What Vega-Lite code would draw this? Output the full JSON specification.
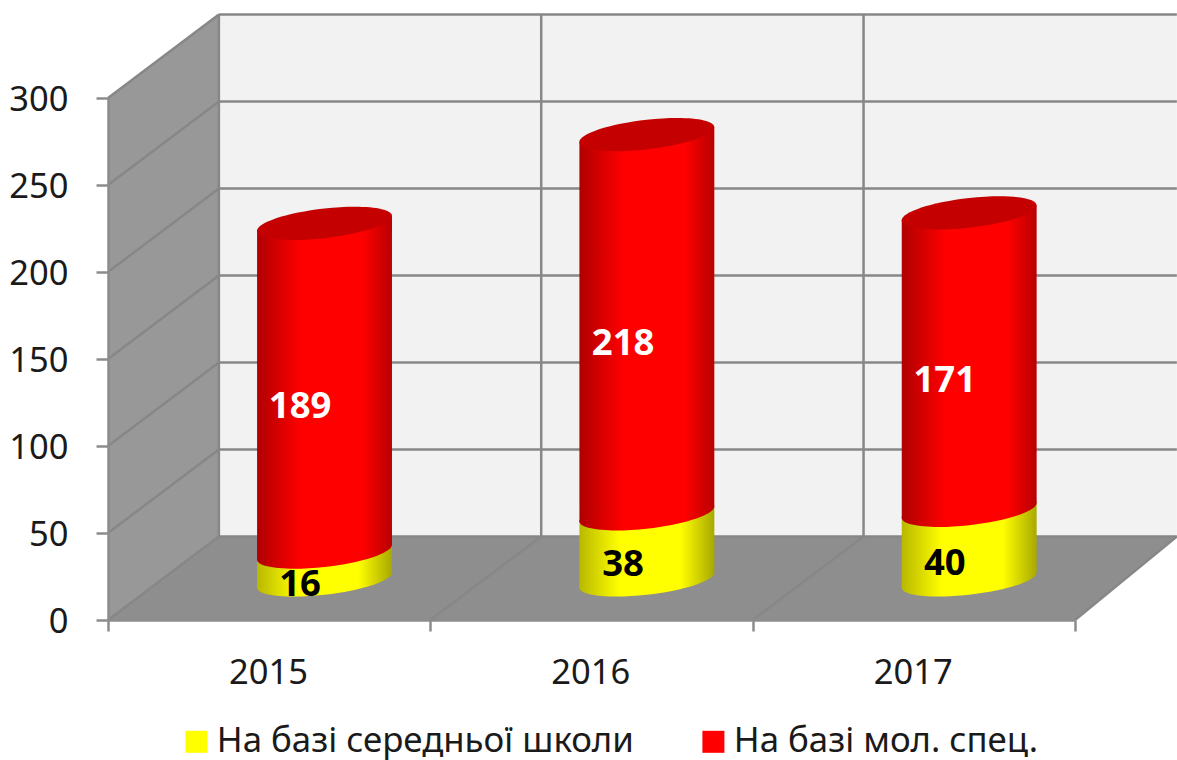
{"$schema":"https://vega.github.io/schema/vega-lite/v6.json","width":967,"height":522,"autosize":"none","padding":{"left":108,"top":98,"right":102,"bottom":140},"background":"white","config":{"view":{"stroke":null},"font":"Noto Sans"},"datasets":{"values":[{"year":2015,"series":"На базі середньої школи","value":16,"pos":0.596,"mid":20.2},{"year":2016,"series":"На базі середньої школи","value":38,"pos":1.598,"mid":31.7},{"year":2017,"series":"На базі середньої школи","value":40,"pos":2.596,"mid":32.2},{"year":2015,"series":"На базі мол. спец.","value":189,"pos":0.596,"mid":122.5},{"year":2016,"series":"На базі мол. спец.","value":218,"pos":1.598,"mid":158.7},{"year":2017,"series":"На базі мол. спец.","value":171,"pos":2.596,"mid":137.4}],"sideWall":[{"pos":0,"low":0,"high":300},{"pos":0.344,"low":48,"high":348}],"floor":[{"level":0,"from":0,"to":3},{"level":48,"from":0.344,"to":3.316}],"backWall":[{"from":0.344,"to":3.316,"low":48,"high":348}],"grid":[{"a":0,"b":0.344,"c":50,"d":98},{"a":0,"b":0.344,"c":100,"d":148},{"a":0,"b":0.344,"c":150,"d":198},{"a":0,"b":0.344,"c":200,"d":248},{"a":0,"b":0.344,"c":250,"d":298},{"a":0,"b":0.344,"c":300,"d":348},{"a":0.344,"b":3.316,"c":48,"d":48},{"a":0.344,"b":3.316,"c":98,"d":98},{"a":0.344,"b":3.316,"c":148,"d":148},{"a":0.344,"b":3.316,"c":198,"d":198},{"a":0.344,"b":3.316,"c":248,"d":248},{"a":0.344,"b":3.316,"c":298,"d":298},{"a":0.344,"b":3.316,"c":348,"d":348},{"a":0.344,"b":0.344,"c":48,"d":348},{"a":1.344,"b":1.344,"c":48,"d":348},{"a":2.344,"b":2.344,"c":48,"d":348},{"a":0,"b":0.344,"c":0,"d":48},{"a":1,"b":1.344,"c":0,"d":48},{"a":2,"b":2.344,"c":0,"d":48},{"a":3,"b":3.316,"c":0,"d":48}],"yellowBody":[{"year":2015,"pos":0.4625,"low":18.75,"high":34.75},{"year":2015,"pos":0.881,"low":27.25,"high":43.25},{"year":2016,"pos":1.4625,"low":18.75,"high":56.75},{"year":2016,"pos":1.881,"low":27.25,"high":65.25},{"year":2017,"pos":2.4625,"low":18.75,"high":58.75},{"year":2017,"pos":2.881,"low":27.25,"high":67.25}],"redBody":[{"year":2015,"pos":0.4625,"low":34.75,"high":223.75},{"year":2015,"pos":0.881,"low":43.25,"high":232.25},{"year":2016,"pos":1.4625,"low":56.75,"high":274.75},{"year":2016,"pos":1.881,"low":65.25,"high":283.25},{"year":2017,"pos":2.4625,"low":58.75,"high":229.75},{"year":2017,"pos":2.881,"low":67.25,"high":238.25}],"yellowEnds":[{"year":2015,"pos":0.6716,"level":23},{"year":2016,"pos":1.6716,"level":23},{"year":2017,"pos":2.6716,"level":23}],"redEnds":[{"year":2015,"pos":0.6716,"level":39},{"year":2016,"pos":1.6716,"level":61},{"year":2017,"pos":2.6716,"level":63}],"tops":[{"year":2015,"pos":0.6716,"level":228},{"year":2016,"pos":1.6716,"level":279},{"year":2017,"pos":2.6716,"level":234}]},"layer":[{"data":{"name":"sideWall"},"mark":{"type":"area","fill":"#989898"},"encoding":{"x":{"field":"pos","type":"quantitative","scale":{"domain":[0,3],"nice":false,"zero":false},"title":null,"axis":{"values":[0,1,2,3],"labelExpr":"datum.value==0?'2015':datum.value==1?'2016':datum.value==2?'2017':''","labelOffset":160,"labelPadding":25,"labelFontSize":34.5,"labelColor":"#1a1a1a","labelFlush":false,"labelOverlap":false,"domainColor":"#8C8C8C","domainWidth":2.5,"tickColor":"#8C8C8C","tickWidth":2.5,"tickSize":11,"grid":false,"zindex":1}},"y":{"field":"low","type":"quantitative","scale":{"domain":[0,300],"nice":false,"zero":false},"title":null,"axis":{"values":[0,50,100,150,200,250,300],"labelPadding":28,"labelFontSize":34.5,"labelOffset":2,"labelColor":"#1a1a1a","domainColor":"#8C8C8C","domainWidth":2.5,"tickColor":"#8C8C8C","tickWidth":2.5,"tickSize":12,"grid":false,"zindex":1}},"y2":{"field":"high"}}},{"data":{"name":"floor"},"mark":{"type":"area","orient":"horizontal","fill":"#8E8E8E"},"encoding":{"y":{"field":"level","type":"quantitative"},"x":{"field":"from","type":"quantitative"},"x2":{"field":"to"}}},{"data":{"name":"backWall"},"mark":{"type":"rect","fill":"#F2F2F2"},"encoding":{"x":{"field":"from","type":"quantitative"},"x2":{"field":"to"},"y":{"field":"low","type":"quantitative"},"y2":{"field":"high"}}},{"data":{"name":"grid"},"mark":{"type":"rule","color":"#878787","strokeWidth":2.5},"encoding":{"x":{"field":"a","type":"quantitative"},"x2":{"field":"b"},"y":{"field":"c","type":"quantitative"},"y2":{"field":"d"}}},{"data":{"name":"values"},"mark":{"type":"point","filled":true,"size":0},"encoding":{"x":{"field":"pos","type":"quantitative"},"y":{"field":"mid","type":"quantitative"},"color":{"field":"series","type":"nominal","scale":{"domain":["На базі середньої школи","На базі мол. спец."],"range":["#FFFF00","#FF0000"]},"legend":{"title":null,"orient":"none","direction":"horizontal","legendX":71,"legendY":626,"symbolType":"square","symbolSize":484,"symbolStrokeWidth":0,"symbolOpacity":1,"labelFontSize":34.8,"labelColor":"#1a1a1a","labelOffset":3,"columnPadding":62,"labelLimit":600,"padding":0}}}},{"data":{"name":"yellowEnds"},"mark":{"type":"point","filled":true,"opacity":1,"size":18225,"shape":"M1,-0.11C1,0.0115,0.5523,0.1592,0,0.22C-0.5523,0.2808,-1,0.2315,-1,0.11C-1,-0.0115,-0.5523,-0.1592,0,-0.22C0.5523,-0.2808,1,-0.2315,1,-0.11Z","fill":{"gradient":"linear","x1":0,"x2":1,"y1":0,"y2":0,"stops":[{"offset":0,"color":"#B8B800"},{"offset":0.3,"color":"#FFFF00"},{"offset":0.75,"color":"#FFFF00"},{"offset":1,"color":"#A8A800"}]}},"encoding":{"x":{"field":"pos","type":"quantitative"},"y":{"field":"level","type":"quantitative"}}},{"data":{"name":"yellowBody"},"mark":{"type":"area","fill":{"gradient":"linear","x1":0,"x2":1,"y1":0,"y2":0,"stops":[{"offset":0,"color":"#B8B800"},{"offset":0.3,"color":"#FFFF00"},{"offset":0.75,"color":"#FFFF00"},{"offset":1,"color":"#A8A800"}]}},"encoding":{"x":{"field":"pos","type":"quantitative"},"y":{"field":"low","type":"quantitative"},"y2":{"field":"high"},"detail":{"field":"year"}}},{"data":{"name":"redEnds"},"mark":{"type":"point","filled":true,"opacity":1,"size":18225,"shape":"M1,-0.11C1,0.0115,0.5523,0.1592,0,0.22C-0.5523,0.2808,-1,0.2315,-1,0.11C-1,-0.0115,-0.5523,-0.1592,0,-0.22C0.5523,-0.2808,1,-0.2315,1,-0.11Z","fill":{"gradient":"linear","x1":0,"x2":1,"y1":0,"y2":0,"stops":[{"offset":0,"color":"#B00000"},{"offset":0.33,"color":"#FF0000"},{"offset":0.78,"color":"#FF0000"},{"offset":1,"color":"#B80000"}]}},"encoding":{"x":{"field":"pos","type":"quantitative"},"y":{"field":"level","type":"quantitative"}}},{"data":{"name":"redBody"},"mark":{"type":"area","fill":{"gradient":"linear","x1":0,"x2":1,"y1":0,"y2":0,"stops":[{"offset":0,"color":"#B00000"},{"offset":0.33,"color":"#FF0000"},{"offset":0.78,"color":"#FF0000"},{"offset":1,"color":"#B80000"}]}},"encoding":{"x":{"field":"pos","type":"quantitative"},"y":{"field":"low","type":"quantitative"},"y2":{"field":"high"},"detail":{"field":"year"}}},{"data":{"name":"tops"},"mark":{"type":"point","filled":true,"opacity":1,"size":18225,"color":"#C40000","shape":"M1,-0.11C1,0.0115,0.5523,0.1592,0,0.22C-0.5523,0.2808,-1,0.2315,-1,0.11C-1,-0.0115,-0.5523,-0.1592,0,-0.22C0.5523,-0.2808,1,-0.2315,1,-0.11Z"},"encoding":{"x":{"field":"pos","type":"quantitative"},"y":{"field":"level","type":"quantitative"}}},{"data":{"name":"values"},"transform":[{"filter":"datum.value<100"}],"mark":{"type":"text","fontSize":36.5,"fontWeight":"bold","color":"#000000","font":"Noto Sans"},"encoding":{"x":{"field":"pos","type":"quantitative"},"y":{"field":"mid","type":"quantitative"},"text":{"field":"value","type":"quantitative"}}},{"data":{"name":"values"},"transform":[{"filter":"datum.value>=100"}],"mark":{"type":"text","fontSize":36.5,"fontWeight":"bold","color":"#FFFFFF","font":"Noto Sans"},"encoding":{"x":{"field":"pos","type":"quantitative"},"y":{"field":"mid","type":"quantitative"},"text":{"field":"value","type":"quantitative"}}}]}
